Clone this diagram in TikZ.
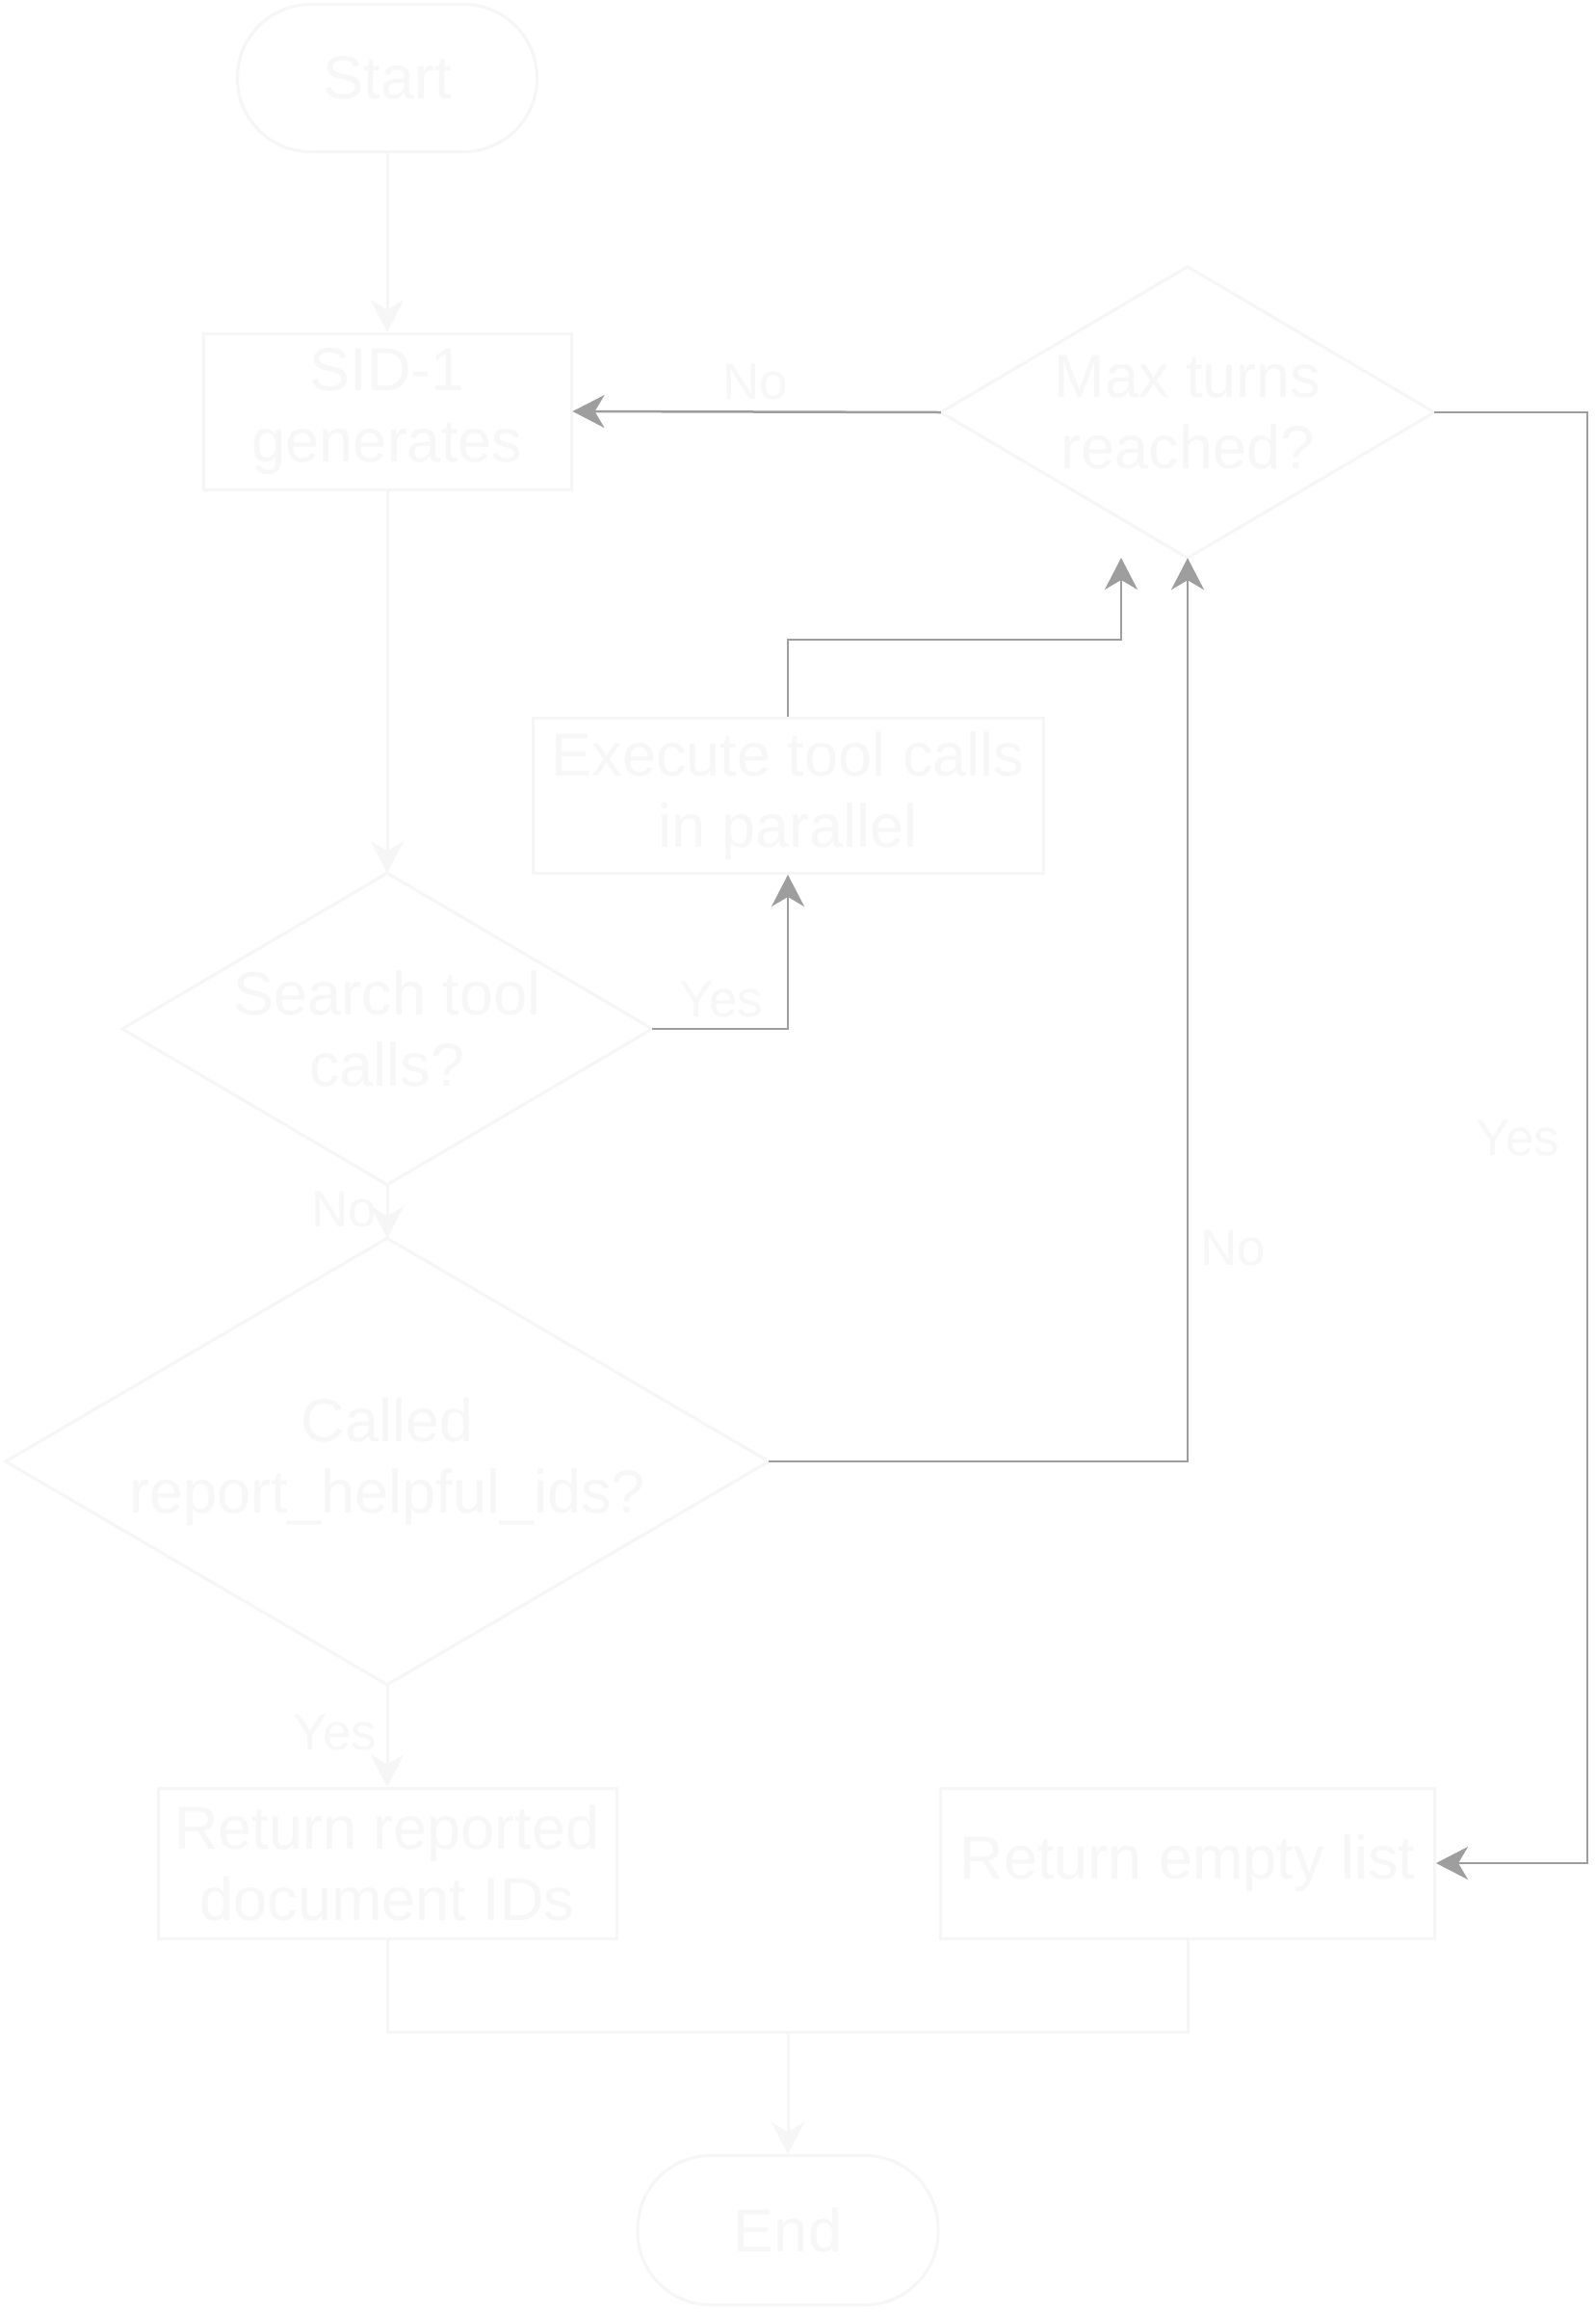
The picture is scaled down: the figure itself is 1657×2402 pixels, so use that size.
\documentclass[tikz,border=0pt]{standalone}
\usepackage{fontspec}
\setmainfont{Liberation Sans}
\usetikzlibrary{shapes.geometric,arrows.meta,backgrounds}
\definecolor{pale}{HTML}{F6F6F6}
\definecolor{paletext}{HTML}{F7F7F7}
\definecolor{loopgray}{HTML}{9E9E9E}
\begin{document}
\begin{tikzpicture}[x=1pt,y=-1pt,
  box/.style={draw=pale, line width=3pt, fill=white, text=paletext,
    font=\fontsize{63}{74}\selectfont, align=center, inner sep=0pt},
  proc/.style={box, rectangle},
  term/.style={box, rectangle, rounded corners=76pt},
  dec/.style={rectangle, text=paletext, font=\fontsize{63}{74}\selectfont, align=center, inner sep=0pt},
  decline/.style={draw=pale, line width=3pt, fill=white, line join=miter},
  lbl/.style={text=paletext, font=\fontsize{53}{60}\selectfont, inner sep=0pt},
  flow/.style={draw=pale, line width=3pt, -{Stealth[length=33pt,width=34pt,inset=10pt]}},
  plainline/.style={draw=pale, line width=3pt},
  loopline/.style={draw=loopgray, line width=2.5pt, -{Stealth[length=33pt,width=34pt,inset=10pt]}}
]
\useasboundingbox (0,0) rectangle (1657,2402);

\node[term, minimum width=311pt, minimum height=153pt] (start) at (402,81) {Start};
\node[proc, minimum width=382pt, minimum height=162pt] (sid) at (402,427) {SID-1\\generates};
\node[dec, minimum width=512pt, minimum height=302pt] (maxq) at (1233,428) {Max turns\\reached?};
\node[proc, minimum width=530pt, minimum height=161pt] (exec) at (818,826) {Execute tool calls\\in parallel};
\node[dec, minimum width=550pt, minimum height=323pt] (search) at (402,1068) {Search tool\\calls?};
\node[dec, minimum width=792pt, minimum height=463pt] (called) at (402,1517) {Called\\report\_helpful\_ids?};
\node[proc, minimum width=476pt, minimum height=156pt] (rep) at (402,1934) {Return reported\\document IDs};
\node[proc, minimum width=513pt, minimum height=156pt] (empty) at (1233,1934) {Return empty list};
\node[term, minimum width=312pt, minimum height=155pt] (endn) at (818,2315) {End};

\begin{pgfonlayer}{background}
\fill[white] (0,0) rectangle (1657,2402);
\foreach \d in {maxq,search,called}
  \draw[decline] (\d.north) -- (\d.east) -- (\d.south) -- (\d.west) -- cycle;
\end{pgfonlayer}

\coordinate (merge) at (818,2109);
\coordinate (mtip) at (1164,579);

\draw[flow] (start) -- (sid);
\draw[flow] (sid) -- (search);
\draw[flow] (search) -- (called);
\draw[loopline] (search.east) -| (exec.south);
\draw[loopline] (exec.north) -- ++(0,-80) -| (mtip);
\draw[loopline] (called.east) -| (maxq.south);
\draw[loopline] (maxq.west) -- (sid.east);
\draw[loopline] (maxq.east) -- ++(159,0) |- (empty.east);
\draw[flow] (called) -- (rep);
\draw[plainline] (rep.south) |- (merge) -| (empty.south);
\draw[flow] (merge) -- (endn);

\node[lbl] (lno1) at (357,1256) {No};
\node[lbl] (lyes1) at (749,1038) {Yes};
\node[lbl] (lno2) at (784,397) {No};
\node[lbl] (lyes2) at (1576,1182) {Yes};
\node[lbl] (lno3) at (1280,1296) {No};
\node[lbl] (lyes3) at (348,1799) {Yes};
\end{tikzpicture}
\end{document}
